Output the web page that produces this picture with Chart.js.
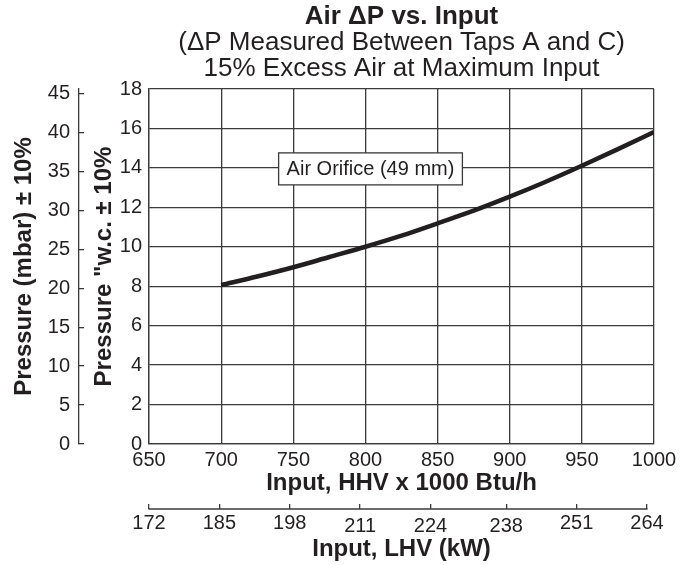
<!DOCTYPE html>
<html><head><meta charset="utf-8">
<script src="https://cdn.jsdelivr.net/npm/chart.js@4.4.1/dist/chart.umd.min.js"></script>
<style>html,body{margin:0;padding:0;background:#fff}canvas{display:block}</style>
</head><body>
<canvas id="c" width="687" height="565"></canvas>
<script>
// ---- data ----
const inputHHV   = [700, 725, 750, 775, 800, 825, 850, 875, 900, 925, 950, 975, 1000];
const pressureWC = [8.06, 8.49, 8.96, 9.48, 10.0, 10.56, 11.19, 11.83, 12.54, 13.3, 14.11, 14.95, 15.82];
const hhvTicks   = [650, 700, 750, 800, 850, 900, 950, 1000];
const lhvTicks   = [172, 185, 198, 211, 224, 238, 251, 264];
const lhvLowered = [211, 224, 238];
const wcTicks    = [0, 2, 4, 6, 8, 10, 12, 14, 16, 18];
const mbarTicks  = [0, 5, 10, 15, 20, 25, 30, 35, 40, 45];
const titleText    = 'Air \u0394P vs. Input';
const subtitleText = ['(\u0394P Measured Between Taps A and C)', '15% Excess Air at Maximum Input'];
const annotationText = 'Air Orifice (49 mm)';

const TXT = '#231f20';
const GRID = '#3a3a3a';
Chart.defaults.font.family = '"Liberation Sans", Arial, Helvetica, sans-serif';
Chart.defaults.color = TXT;

const setTicks = arr => scale => { scale.ticks = arr.map(v => ({ value: v })); };
const plain = v => String(v);

const extras = {
  id: 'extras',
  afterDatasetsDraw(chart) {
    const ctx = chart.ctx;
    const xs = chart.scales.x, ys = chart.scales.y;
    const cx = xs.getPixelForValue(803.5), cy = ys.getPixelForValue(13.95);
    ctx.save();
    ctx.font = '20px "Liberation Sans", Arial, sans-serif';
    const w = ctx.measureText(annotationText).width + 16;
    const h = 32;
    ctx.fillStyle = '#fff';
    ctx.fillRect(cx - w / 2, cy - h / 2, w, h);
    ctx.strokeStyle = GRID;
    ctx.lineWidth = 1.3;
    ctx.strokeRect(cx - w / 2, cy - h / 2, w, h);
    ctx.fillStyle = TXT;
    ctx.textAlign = 'center';
    ctx.textBaseline = 'middle';
    ctx.fillText(annotationText, cx, cy + 1);
    ctx.restore();
  },
  afterDraw(chart) {
    const ctx = chart.ctx;
    const s = chart.scales.lhv;
    ctx.save();
    ctx.strokeStyle = GRID;
    ctx.lineWidth = 1.3;
    ctx.beginPath();
    ctx.moveTo(s.getPixelForValue(lhvTicks[0]) - 0.6, s.top);
    ctx.lineTo(s.getPixelForValue(lhvTicks[lhvTicks.length - 1]) + 0.6, s.top);
    ctx.stroke();
    ctx.restore();
  }
};

new Chart(document.getElementById('c'), {
  type: 'line',
  data: {
    datasets: [{
      data: inputHHV.map((x, i) => ({ x, y: pressureWC[i] })),
      borderColor: '#231f20',
      borderWidth: 4.5,
      pointRadius: 0,
      cubicInterpolationMode: 'monotone',
      fill: false,
      xAxisID: 'x',
      yAxisID: 'y'
    }]
  },
  options: {
    responsive: false,
    animation: false,
    devicePixelRatio: 1,
    layout: { padding: { left: 0, right: 33, top: 0, bottom: 0 } },
    plugins: {
      legend: { display: false },
      tooltip: { enabled: false },
      title: {
        display: true, text: titleText, fullSize: false, color: TXT,
        font: { size: 26, weight: 'bold', lineHeight: 1 },
        padding: { top: 4, bottom: 0 }
      },
      subtitle: {
        display: true, text: subtitleText, fullSize: false, color: TXT,
        font: { size: 26, weight: 'normal', lineHeight: 1 },
        padding: { top: 0, bottom: 7 }
      }
    },
    scales: {
      x: {
        type: 'linear', position: 'bottom', weight: 0, min: 650, max: 1000,
        afterBuildTicks: setTicks(hhvTicks),
        grid: { color: GRID, lineWidth: 1.3, drawTicks: false },
        border: { display: true, color: GRID, width: 1.3 },
        ticks: { callback: plain, padding: 6, autoSkip: false, maxRotation: 0, color: TXT, font: { size: 20, lineHeight: 1 } },
        title: { display: true, text: 'Input, HHV x 1000 Btu/h', color: TXT,
          font: { size: 24, weight: 'bold', lineHeight: 1 }, padding: { top: -5, bottom: 14 } }
      },
      lhv: {
        type: 'linear', position: 'bottom', weight: 1, min: 172, max: 265.3,
        afterBuildTicks: setTicks(lhvTicks),
        grid: { drawOnChartArea: false, drawTicks: true, tickLength: -5, color: GRID, lineWidth: 1.3 },
        border: { display: false },
        ticks: { callback: plain, padding: 9, autoSkip: false, maxRotation: 0, color: TXT,
          font: c => ({ size: 20, lineHeight: (c.tick && lhvLowered.includes(c.tick.value)) ? 1.3 : 1 }) },
        title: { display: true, text: 'Input, LHV (kW)', color: TXT,
          font: { size: 24, weight: 'bold', lineHeight: 1 }, padding: { top: -11, bottom: 4 } }
      },
      y: {
        type: 'linear', position: 'left', weight: 0, min: 0, max: 18,
        afterBuildTicks: setTicks(wcTicks),
        grid: { color: GRID, lineWidth: 1.3, drawTicks: false },
        border: { display: true, color: GRID, width: 1.3 },
        ticks: { callback: plain, padding: 7, autoSkip: false, color: TXT, font: { size: 20, lineHeight: 1 } },
        title: { display: true, text: 'Pressure "w.c. \u00b1 10%', color: TXT,
          font: { size: 24, weight: 'bold', lineHeight: 1 }, padding: { top: 13, bottom: -3.2 } }
      },
      mbar: {
        type: 'linear', position: 'left', weight: 1, min: 0, max: 45.6,
        afterBuildTicks: setTicks(mbarTicks),
        grid: { drawOnChartArea: false, drawTicks: true, tickLength: -5, color: GRID, lineWidth: 1.3 },
        border: { display: true, color: GRID, width: 1.3 },
        ticks: { callback: plain, padding: 14, autoSkip: false, color: TXT, font: { size: 20, lineHeight: 1 } },
        title: { display: true, text: 'Pressure (mbar) \u00b1 10%', color: TXT,
          font: { size: 24, weight: 'bold', lineHeight: 1 }, padding: { top: 12, bottom: -2.24 } }
      }
    }
  },
  plugins: [extras]
});
</script>
</body></html>
